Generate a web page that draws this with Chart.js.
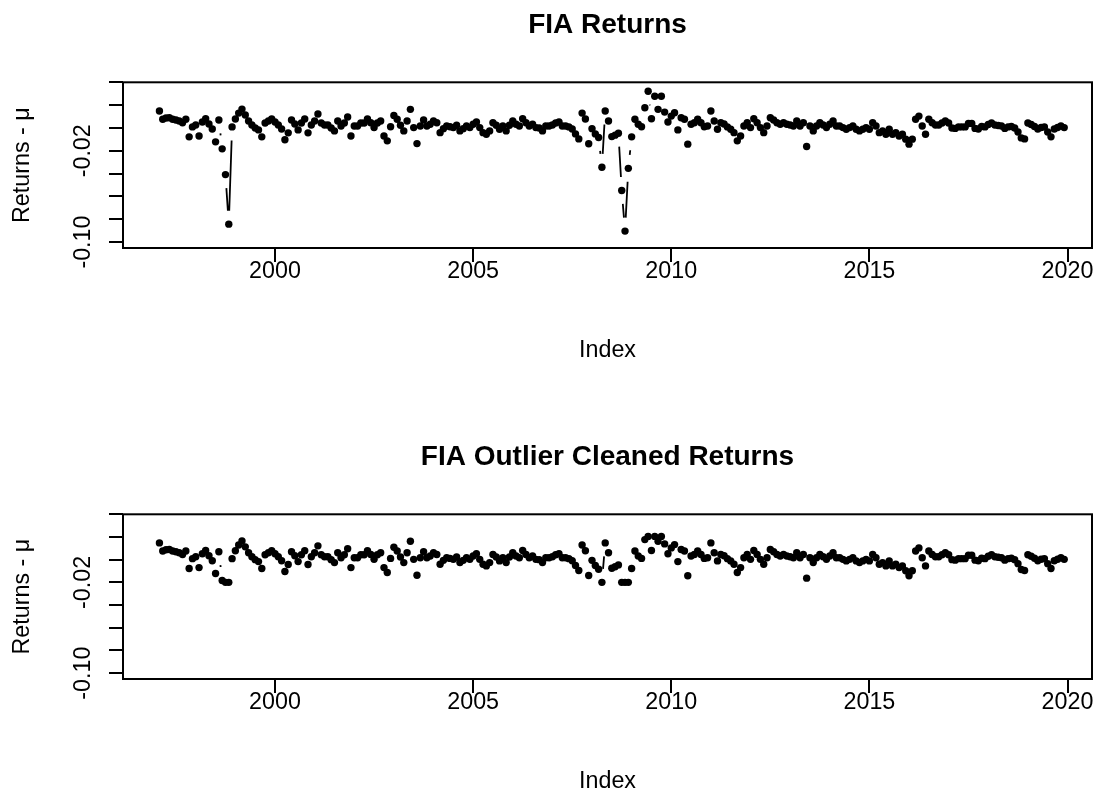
<!DOCTYPE html>
<html lang="en">
<head>
<meta charset="UTF-8">
<title>FIA Returns</title>
<script src="https://cdn.jsdelivr.net/npm/chart.js"></script>
<style>
  body { margin: 0; background: #fff; }
  .painel { position: absolute; left: 0; width: 1098px; height: 397px; }
</style>
</head>
<body>
<div class="painel" style="top:0"><canvas id="graficoRetornos" width="1098" height="397"></canvas></div>
<div class="painel" style="top:397px"><canvas id="graficoLimpo" width="1098" height="397"></canvas></div>
<script>
// monthly series, first value = Feb 1997
var inicioAno = 1997;
var inicioMes = 2;

var retornos = [
  0.0148, 0.0076, 0.0087, 0.0090, 0.0076, 0.0070, 0.0061, 0.0046, 0.0076, -0.0078, 0.0009,
  0.0026, -0.0070, 0.0052, 0.0081, 0.0035, -0.0009, -0.0122, 0.0070, -0.0183, -0.0409, -0.0843, 0.0009,
  0.0078, 0.0130, 0.0165, 0.0113, 0.0061, 0.0026, 0.0000, -0.0017, -0.0078, 0.0043, 0.0061, 0.0078,
  0.0052, 0.0026, -0.0009, -0.0104, -0.0043, 0.0070, 0.0035, -0.0017, 0.0043, 0.0078, -0.0043, 0.0026,
  0.0061, 0.0122, 0.0043, 0.0026, 0.0026, 0.0000, -0.0026, 0.0061, 0.0017, 0.0043, 0.0096, -0.0070,
  0.0017, 0.0017, 0.0043, 0.0043, 0.0078, 0.0046, 0.0003, 0.0043, 0.0061, -0.0070, -0.0113, 0.0011,
  0.0110, 0.0076, 0.0023, -0.0026, 0.0061, 0.0163, 0.0003, -0.0137, 0.0017, 0.0070, 0.0017, 0.0032,
  0.0061, 0.0046, -0.0041, -0.0006, 0.0017, 0.0011, 0.0003, 0.0023, -0.0026, -0.0006, 0.0017, 0.0003,
  0.0032, 0.0052, 0.0003, -0.0041, -0.0055, -0.0026, 0.0046, 0.0023, -0.0011, 0.0017, -0.0026, 0.0023,
  0.0061, 0.0032, 0.0017, 0.0081, 0.0046, 0.0017, 0.0032, 0.0003, 0.0000, -0.0026, 0.0017, 0.0017,
  0.0026, 0.0043, 0.0052, 0.0017, 0.0017, 0.0009, -0.0009, -0.0052, -0.0096, 0.0130, 0.0078, -0.0139,
  -0.0006, -0.0052, -0.0084, -0.0345, 0.0148, 0.0061, -0.0076, -0.0063, -0.0046, -0.0548, -0.0904, -0.0354,
  -0.0078, 0.0076, 0.0032, 0.0011, 0.0177, 0.0322, 0.0081, 0.0278, 0.0163, 0.0278, 0.0139, 0.0052,
  0.0104, 0.0133, -0.0017, 0.0090, 0.0076, -0.0142, 0.0032, 0.0046, 0.0076, 0.0046, 0.0011, 0.0017,
  0.0148, 0.0061, -0.0011, 0.0046, 0.0035, 0.0009, -0.0011, -0.0041, -0.0113, -0.0070, 0.0017, 0.0046,
  0.0003, 0.0081, 0.0046, 0.0003, -0.0041, 0.0017, 0.0090, 0.0070, 0.0046, 0.0032, 0.0046, 0.0032,
  0.0026, 0.0017, 0.0061, 0.0017, 0.0046, -0.0163, 0.0017, -0.0026, 0.0017, 0.0046, 0.0026, 0.0003,
  0.0032, 0.0061, 0.0017, 0.0017, 0.0003, -0.0011, 0.0003, 0.0017, -0.0011, -0.0026, -0.0011, 0.0003,
  -0.0011, 0.0046, 0.0017, -0.0041, -0.0026, -0.0055, -0.0011, -0.0055, -0.0041, -0.0070, -0.0055, -0.0098,
  -0.0142, -0.0098, 0.0076, 0.0104, 0.0017, -0.0055, 0.0076, 0.0046, 0.0026, 0.0026, 0.0043, 0.0061,
  0.0043, 0.0000, -0.0004, 0.0009, 0.0009, 0.0009, 0.0039, 0.0039, -0.0004, -0.0009, 0.0013, 0.0009,
  0.0030, 0.0043, 0.0026, 0.0022, 0.0017, -0.0004, 0.0009, 0.0013, 0.0000, -0.0035, -0.0087, -0.0096,
  0.0043, 0.0030, 0.0013, -0.0009, 0.0004, 0.0009, -0.0035, -0.0078, -0.0009, 0.0004, 0.0017, 0.0003
];

var retornosLimpos = [
  0.0148, 0.0076, 0.0087, 0.0090, 0.0076, 0.0070, 0.0061, 0.0046, 0.0076, -0.0078, 0.0009,
  0.0026, -0.0070, 0.0052, 0.0081, 0.0035, -0.0009, -0.0122, 0.0070, -0.0183, -0.0200, -0.0200, 0.0009,
  0.0078, 0.0130, 0.0165, 0.0113, 0.0061, 0.0026, 0.0000, -0.0017, -0.0078, 0.0043, 0.0061, 0.0078,
  0.0052, 0.0026, -0.0009, -0.0104, -0.0043, 0.0070, 0.0035, -0.0017, 0.0043, 0.0078, -0.0043, 0.0026,
  0.0061, 0.0122, 0.0043, 0.0026, 0.0026, 0.0000, -0.0026, 0.0061, 0.0017, 0.0043, 0.0096, -0.0070,
  0.0017, 0.0017, 0.0043, 0.0043, 0.0078, 0.0046, 0.0003, 0.0043, 0.0061, -0.0070, -0.0113, 0.0011,
  0.0110, 0.0076, 0.0023, -0.0026, 0.0061, 0.0163, 0.0003, -0.0137, 0.0017, 0.0070, 0.0017, 0.0032,
  0.0061, 0.0046, -0.0041, -0.0006, 0.0017, 0.0011, 0.0003, 0.0023, -0.0026, -0.0006, 0.0017, 0.0003,
  0.0032, 0.0052, 0.0003, -0.0041, -0.0055, -0.0026, 0.0046, 0.0023, -0.0011, 0.0017, -0.0026, 0.0023,
  0.0061, 0.0032, 0.0017, 0.0081, 0.0046, 0.0017, 0.0032, 0.0003, 0.0000, -0.0026, 0.0017, 0.0017,
  0.0026, 0.0043, 0.0052, 0.0017, 0.0017, 0.0009, -0.0009, -0.0052, -0.0096, 0.0130, 0.0078, -0.0139,
  -0.0006, -0.0052, -0.0084, -0.0200, 0.0148, 0.0061, -0.0076, -0.0063, -0.0046, -0.0200, -0.0200, -0.0200,
  -0.0078, 0.0076, 0.0032, 0.0011, 0.0177, 0.0205, 0.0081, 0.0205, 0.0163, 0.0205, 0.0139, 0.0052,
  0.0104, 0.0133, -0.0017, 0.0090, 0.0076, -0.0142, 0.0032, 0.0046, 0.0076, 0.0046, 0.0011, 0.0017,
  0.0148, 0.0061, -0.0011, 0.0046, 0.0035, 0.0009, -0.0011, -0.0041, -0.0113, -0.0070, 0.0017, 0.0046,
  0.0003, 0.0081, 0.0046, 0.0003, -0.0041, 0.0017, 0.0090, 0.0070, 0.0046, 0.0032, 0.0046, 0.0032,
  0.0026, 0.0017, 0.0061, 0.0017, 0.0046, -0.0163, 0.0017, -0.0026, 0.0017, 0.0046, 0.0026, 0.0003,
  0.0032, 0.0061, 0.0017, 0.0017, 0.0003, -0.0011, 0.0003, 0.0017, -0.0011, -0.0026, -0.0011, 0.0003,
  -0.0011, 0.0046, 0.0017, -0.0041, -0.0026, -0.0055, -0.0011, -0.0055, -0.0041, -0.0070, -0.0055, -0.0098,
  -0.0142, -0.0098, 0.0076, 0.0104, 0.0017, -0.0055, 0.0076, 0.0046, 0.0026, 0.0026, 0.0043, 0.0061,
  0.0043, 0.0000, -0.0004, 0.0009, 0.0009, 0.0009, 0.0039, 0.0039, -0.0004, -0.0009, 0.0013, 0.0009,
  0.0030, 0.0043, 0.0026, 0.0022, 0.0017, -0.0004, 0.0009, 0.0013, 0.0000, -0.0035, -0.0087, -0.0096,
  0.0043, 0.0030, 0.0013, -0.0009, 0.0004, 0.0009, -0.0035, -0.0078, -0.0009, 0.0004, 0.0017, 0.0003
];

var anosEixo = [2000, 2005, 2010, 2015, 2020];
var ticksY = [-0.10, -0.08, -0.06, -0.04, -0.02, 0.00, 0.02, 0.04];
var rotulosY = ['-0.10', '', '', '', '-0.02', '', '', ''];
var limitesX = [1996.164, 2020.618];
var limitesY = [-0.1052, 0.04];

var datas = retornos.map(function (_, i) { return inicioAno + (inicioMes - 1 + i) / 12; });

Chart.defaults.font.family = "'Liberation Sans', Arial, sans-serif";
Chart.defaults.font.size = 23.3;
Chart.defaults.color = '#000';

// R style box round the plot region
var caixa = {
    id: 'caixa',
    afterDraw: function (chart) {
        var a = chart.chartArea;
        var ctx = chart.ctx;
        ctx.save();
        ctx.strokeStyle = '#000';
        ctx.lineWidth = 2;
        ctx.strokeRect(a.left, a.top, a.right - a.left, a.bottom - a.top);
        ctx.restore();
    }
};

// type = "b": segments between points, cut short near each point
var linhasB = {
    id: 'linhasB',
    afterDatasetsDraw: function (chart) {
        var pts = chart.getDatasetMeta(0).data;
        var ctx = chart.ctx;
        var gap = 13.5;
        var a = chart.chartArea;
        ctx.save();
        ctx.beginPath();
        ctx.rect(a.left, a.top, a.right - a.left, a.bottom - a.top);
        ctx.clip();
        ctx.strokeStyle = '#000';
        ctx.lineWidth = 1.8;
        ctx.beginPath();
        for (var i = 1; i < pts.length; i++) {
            var x0 = pts[i - 1].x, y0 = pts[i - 1].y, x1 = pts[i].x, y1 = pts[i].y;
            var d = Math.hypot(x1 - x0, y1 - y0);
            if (d <= 2 * gap) continue;
            var ux = (x1 - x0) / d, uy = (y1 - y0) / d;
            ctx.moveTo(x0 + ux * gap, y0 + uy * gap);
            ctx.lineTo(x1 - ux * gap, y1 - uy * gap);
        }
        ctx.stroke();
        ctx.restore();
    }
};

function desenhaGrafico(id, titulo, valores, tituloTopo, folgaBaixo) {
    new Chart(document.getElementById(id), {
        type: 'scatter',
        data: {
            datasets: [{
                data: valores.map(function (v, i) { return { x: datas[i], y: v }; }),
                pointRadius: 3.7,
                pointHoverRadius: 3.7,
                pointBackgroundColor: '#000',
                pointBorderWidth: 0,
                showLine: false
            }]
        },
        options: {
            responsive: false,
            animation: false,
            events: [],
            layout: { padding: { left: 0, right: 6, top: 0, bottom: folgaBaixo } },
            plugins: {
                legend: { display: false },
                tooltip: { enabled: false },
                title: {
                    display: true,
                    text: titulo,
                    fullSize: false,
                    color: '#000',
                    font: { size: 28, weight: 'bold' },
                    padding: { top: tituloTopo, bottom: 40.2 }
                }
            },
            scales: {
                x: {
                    type: 'linear',
                    min: limitesX[0],
                    max: limitesX[1],
                    afterBuildTicks: function (s) { s.ticks = anosEixo.map(function (v) { return { value: v }; }); },
                    afterFit: function (s) { s.height = 115; },
                    ticks: { autoSkip: false, maxRotation: 0, padding: -4, callback: function (v) { return String(v); } },
                    grid: { drawOnChartArea: false, tickLength: 14, lineWidth: 2, color: '#000' },
                    border: { display: false },
                    title: { display: true, text: 'Index', padding: { top: 0, bottom: -2 } }
                },
                y: {
                    min: limitesY[0],
                    max: limitesY[1],
                    afterBuildTicks: function (s) { s.ticks = ticksY.map(function (v) { return { value: v }; }); },
                    afterFit: function (s) { s.width = 123; },
                    ticks: {
                        autoSkip: false, minRotation: 90, maxRotation: 90, crossAlign: 'center', padding: -1,
                        callback: function (v, i) { return rotulosY[i]; }
                    },
                    grid: { drawOnChartArea: false, tickLength: 14, lineWidth: 2, color: '#000' },
                    border: { display: false },
                    title: { display: true, text: 'Returns - μ', padding: { top: 9, bottom: 0 } }
                }
            }
        },
        plugins: [caixa, linhasB]
    });
}

desenhaGrafico('graficoRetornos', 'FIA Returns', retornos, 8.5, 34);
desenhaGrafico('graficoLimpo', 'FIA Outlier Cleaned Returns', retornosLimpos, 43.5, 0);
</script>
</body>
</html>
